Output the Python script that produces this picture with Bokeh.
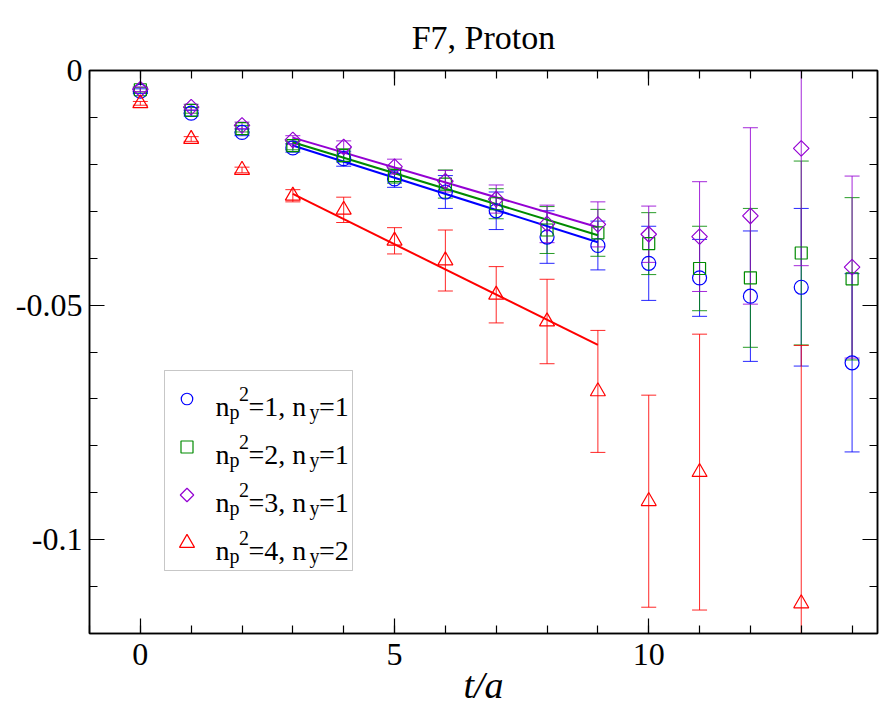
import numpy as np
from bokeh.plotting import figure
from bokeh.models import Range1d, LinearAxis, FixedTicker, Label, BoxAnnotation
from bokeh.embed import file_html
from bokeh.resources import INLINE

# ---------------- data ----------------
t = list(range(15))

blue_y = [-0.0044, -0.0091, -0.0132, -0.0165, -0.0188, -0.0231, -0.0259, -0.0299,
          -0.0355, -0.0373, -0.0411, -0.0442, -0.0481, -0.0462, -0.0623]
blue_err = [0.0005, 0.0006, 0.0007, 0.0009, 0.0016, 0.0018, 0.0035, 0.0040,
            0.0056, 0.0052, 0.0079, 0.0082, 0.0139, 0.0168, 0.0190]

green_y = [-0.0041, -0.0085, -0.0124, -0.0160, -0.0181, -0.0224, -0.0242, -0.0284,
           -0.0340, -0.0346, -0.0369, -0.0422, -0.0442, -0.0389, -0.0444]
green_err = [0.0005, 0.0006, 0.0007, 0.0009, 0.0014, 0.0016, 0.0030, 0.0032,
             0.0050, 0.0050, 0.0066, 0.0090, 0.0148, 0.0196, 0.0173]

purple_y = [-0.0040, -0.0078, -0.0117, -0.0148, -0.0163, -0.0205, -0.0236, -0.0274,
            -0.0327, -0.0328, -0.0349, -0.0354, -0.0310, -0.0166, -0.0419]
purple_err = [0.0005, 0.0006, 0.0007, 0.0009, 0.0013, 0.0016, 0.0023, 0.0030,
              0.0040, 0.0048, 0.0060, 0.0117, 0.0188, 0.0250, 0.0194]

nan = float("nan")
red_y = [-0.0070, -0.0146, -0.0212, -0.0267, -0.0297, -0.0363, -0.0405, -0.0478,
         -0.0535, -0.0684, -0.0918, -0.0856, nan, -0.1136, nan]
red_err = [0.0004, 0.0005, 0.0006, 0.0013, 0.0027, 0.0028, 0.0065, 0.0060,
           0.0090, 0.0130, 0.0226, 0.0294, nan, 0.0550, nan]

fit_t = [3, 9]
blue_fit = [-0.0160, -0.0366]
green_fit = [-0.0153, -0.0351]
purple_fit = [-0.0143, -0.0334]
red_fit = [-0.0263, -0.0585]

legend_np2 = ["1", "2", "3", "4"]
legend_ny = ["1", "1", "1", "2"]

x_major = [0, 5, 10]
x_labels = ["0", "5", "10"]
y_major = [-0.1, -0.05, 0.0]
y_labels = ["-0.1", "-0.05", "0"]

title_text = "F7, Proton"
x_title = "t/a"

# ---------------- layout constants ----------------
W, H = 879, 708
FL, FR, FT, FB = 89, 877, 70, 633          # frame edges in px
XMIN, XMAX = -1.0, 14.5
YMIN, YMAX = -0.12, 0.0
FONT = "'Liberation Serif', 'Times New Roman', serif"


def px2x(px):
    return XMIN + (px - FL) / (FR - FL) * (XMAX - XMIN)


def py2y(py):
    return YMAX - (py - FT) / (FB - FT) * (YMAX - YMIN)


p = figure(width=W, height=H, x_range=Range1d(XMIN, XMAX), y_range=Range1d(YMIN, YMAX),
           output_backend="svg", toolbar_location=None,
           min_border_left=FL, min_border_right=W - FR, min_border_top=FT,
           min_border_bottom=H - FB, title=title_text)
p.grid.visible = False
p.outline_line_color = "black"
p.outline_line_width = 1.5
p.background_fill_color = "white"
p.border_fill_color = "white"

p.title.text_font = FONT
p.title.text_font_size = "34px"
p.title.text_font_style = "normal"
p.title.align = "center"
p.title.text_color = "black"
p.title.standoff = 30

x_minor = list(range(-1, 15))
y_minor = [round(-0.01 * i, 2) for i in range(13)]
xt = FixedTicker(ticks=x_major, minor_ticks=x_minor)
yt = FixedTicker(ticks=y_major, minor_ticks=y_minor)


def style_axis(ax, show):
    ax.axis_line_color = "black"
    ax.axis_line_width = 1.5
    ax.major_tick_in = 15
    ax.major_tick_out = 0
    ax.minor_tick_in = 8
    ax.minor_tick_out = 0
    ax.major_tick_line_width = 1.2
    ax.minor_tick_line_width = 1.2
    ax.major_tick_line_color = "black"
    ax.minor_tick_line_color = "black"
    if show:
        ax.major_label_text_font = FONT
        ax.major_label_text_font_size = "32px"
        ax.major_label_text_color = "black"
    else:
        ax.major_label_text_color = None
        ax.major_label_text_alpha = 0
        ax.major_label_text_font_size = "1px"
        ax.major_label_standoff = 0


xa = p.xaxis[0]
xa.ticker = xt
style_axis(xa, True)
xa.major_label_overrides = {v: s for v, s in zip(x_major, x_labels)}
xa.major_label_standoff = 10
xa.axis_label = x_title
xa.axis_label_text_font = FONT
xa.axis_label_text_font_style = "italic"
xa.axis_label_text_font_size = "38px"
xa.axis_label_text_color = "black"
xa.axis_label_standoff = -4

ya = p.yaxis[0]
ya.ticker = yt
style_axis(ya, True)
ya.major_label_overrides = {v: s for v, s in zip(y_major, y_labels)}
ya.major_label_standoff = 7

top_ax = LinearAxis(ticker=xt)
style_axis(top_ax, False)
p.add_layout(top_ax, "above")
right_ax = LinearAxis(ticker=yt)
style_axis(right_ax, False)
p.add_layout(right_ax, "right")

# ---------------- series ----------------
series = [
    dict(y=blue_y, err=blue_err, fit=blue_fit, color="#0000ff", marker="circle", size=14, angle=0, lsize=11.5),
    dict(y=green_y, err=green_err, fit=green_fit, color="#008b00", marker="square", size=12, angle=0, lsize=12),
    dict(y=purple_y, err=purple_err, fit=purple_fit, color="#9400d3", marker="square", size=11, angle=np.pi / 4, lsize=9.5),
    dict(y=red_y, err=red_err, fit=red_fit, color="#ff0000", marker="triangle", size=15, angle=0, lsize=15),
]

tt = np.array(t, dtype=float)
for s in series:
    y = np.array(s["y"], dtype=float)
    e = np.array(s["err"], dtype=float)
    lo, hi = y - e, y + e
    c = s["color"]
    p.segment(x0=tt, y0=lo, x1=tt, y1=hi, line_color=c, line_width=1, line_alpha=0.85)
    p.scatter(tt, lo, marker="dash", size=15, line_color=c, line_width=1, line_alpha=0.85)
    p.scatter(tt, hi, marker="dash", size=15, line_color=c, line_width=1, line_alpha=0.85)

for s in series:
    p.line(fit_t, s["fit"], line_color=s["color"], line_width=2)

for s in series:
    p.scatter(tt, np.array(s["y"], dtype=float), marker=s["marker"], size=s["size"],
              angle=s["angle"], line_color=s["color"], fill_color=None, line_width=1.2)

# ---------------- legend (box, swatches, rich-text labels) ----------------
box = BoxAnnotation(left=px2x(164), right=px2x(352), top=py2y(370), bottom=py2y(570),
                    fill_color="white", fill_alpha=1.0, line_color="#444444",
                    line_width=1, level="underlay")
p.add_layout(box)

for i, s in enumerate(series):
    cy = 398.5 + 48 * i
    p.scatter([px2x(186.5)], [py2y(cy)], marker=s["marker"], size=s["lsize"],
              angle=s["angle"], line_color=s["color"], fill_color=None, line_width=1.2)
    b = cy + 7.7
    pieces = [
        ("n", 215, b, "28px"),
        ("p", 229, b + 5, "20px"),
        ("2", 238.5, b - 13, "20px"),
        ("=" + legend_np2[i] + ", n", 248, b, "28px"),
        ("y", 309, b + 5, "20px"),
        ("=" + legend_ny[i], 318.5, b, "28px"),
    ]
    for txt, px, py, fs in pieces:
        p.add_layout(Label(x=px2x(px), y=py2y(py), text=txt, text_font=FONT,
                           text_font_size=fs, text_color="black",
                           text_align="left", text_baseline="alphabetic"))

open("out.html", "w").write(file_html(p, INLINE))
